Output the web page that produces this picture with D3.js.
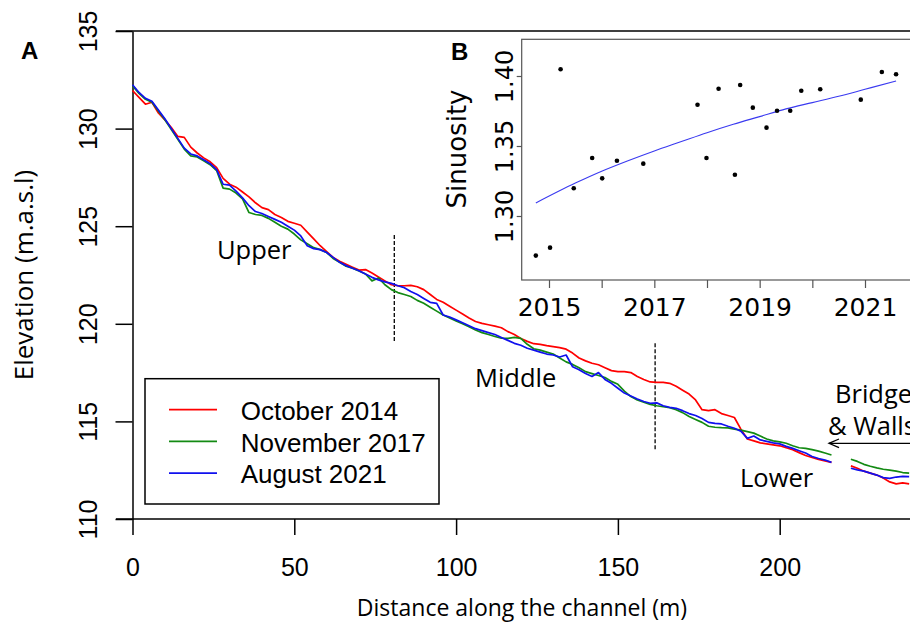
<!DOCTYPE html>
<html>
<head>
<meta charset="utf-8">
<script src="https://cdn.jsdelivr.net/npm/d3@7"></script>
<style>
  body { margin: 0; background: #fff; }
  svg { display: block; }
</style>
</head>
<body>
<svg id="chart" width="910" height="623"></svg>
<script>
// distance along the channel (m)
const distance = [0,2,4,6,8,10,12,14,16,18,20,22,24,26,28,30,32,34,36,38,40,42,44,46,48,50,
  52,54,56,58,60,62,64,66,68,70,72,74,76,78,80,82,84,86,88,90,92,94,96,98,100,
  102,104,106,108,110,112,114,116,118,120,122,124,126,128,130,132,134,136,138,140,
  142,144,146,148,150,152,154,156,158,160,162,164,166,168,170,172,174,176,178,180,
  182,184,186,188,190,192,194,196,198,200,202,204,206,208,210,212,214,216,218,220,
  222,224,226,228,230,232,234,236,238,240];

// elevation profiles (m.a.s.l), null = gap at the bridge
const oct2014 = [131.95,131.6,131.25,131.35,130.8,130.45,130.05,129.6,129.55,129.05,128.75,128.5,128.3,128.0,127.45,127.15,127.0,126.75,126.5,126.2,125.95,
  125.85,125.6,125.45,125.25,125.15,125.05,124.7,124.35,124.0,123.7,123.4,123.2,123.05,122.9,122.75,122.78,122.6,122.4,122.2,122.0,
  121.95,121.95,121.97,121.9,121.75,121.5,121.25,121.1,120.9,120.7,120.5,120.3,120.12,120.02,119.95,119.88,119.8,119.6,119.45,119.25,
  119.1,118.98,118.95,118.88,118.83,118.78,118.7,118.5,118.25,118.1,117.98,117.9,117.75,117.6,117.55,117.55,117.5,117.3,117.15,117.02,
  117.0,117.0,116.95,116.8,116.6,116.4,116.1,115.6,115.55,115.6,115.4,115.3,115.2,114.6,114.1,114.0,113.9,113.85,113.8,113.75,
  113.65,113.55,113.4,113.25,113.15,113.05,112.98,112.9,null,null,112.72,112.6,112.45,112.35,112.25,112.1,111.9,111.8,111.85,111.8];

const nov2017 = [132.2,131.8,131.5,131.35,130.9,130.45,129.95,129.45,128.95,128.6,128.55,128.35,128.15,127.85,126.95,126.9,126.7,126.4,125.7,125.6,125.55,
  125.4,125.2,125.0,124.85,124.6,124.3,124.1,123.9,123.8,123.65,123.35,123.15,122.95,122.85,122.7,122.55,122.2,122.35,122.0,121.75,
  121.6,121.5,121.4,121.2,121.05,120.85,120.65,120.45,120.3,120.15,120.0,119.85,119.68,119.55,119.45,119.35,119.26,119.25,119.3,119.25,
  118.95,118.72,118.65,118.55,118.45,118.25,118.05,117.92,117.75,117.55,117.45,117.35,117.25,117.05,116.9,116.55,116.27,116.1,115.98,115.87,
  115.8,115.75,115.7,115.6,115.45,115.25,115.1,114.95,114.75,114.7,114.68,114.67,114.6,114.55,114.48,114.4,114.25,114.1,114.0,113.95,
  113.88,113.75,113.65,113.62,113.55,113.48,113.38,113.28,null,null,113.06,112.95,112.8,112.7,112.62,112.55,112.5,112.45,112.38,112.35];

const aug2021 = [132.25,131.85,131.55,131.4,130.95,130.5,130.0,129.5,129.0,128.7,128.6,128.4,128.2,127.9,127.15,127.1,126.8,126.45,126.05,125.75,125.65,
  125.5,125.35,125.2,125.0,124.8,124.5,124.0,123.85,123.8,123.65,123.4,123.15,122.98,122.85,122.72,122.55,122.38,122.25,122.15,122.07,
  121.95,121.85,121.65,121.5,121.3,121.1,121.05,120.45,120.35,120.2,120.05,119.9,119.75,119.65,119.55,119.45,119.3,119.15,119.0,118.9,
  118.75,118.65,118.55,118.45,118.4,118.3,118.4,117.8,117.65,117.45,117.3,117.5,117.15,116.95,116.7,116.45,116.3,116.15,116.02,115.93,
  115.95,115.8,115.72,115.67,115.55,115.4,115.3,115.15,114.95,114.9,114.87,114.75,114.65,114.5,114.13,114.25,114.05,113.98,113.9,113.85,
  113.72,113.62,113.5,113.38,113.2,113.1,113.02,112.9,null,null,112.6,112.52,112.45,112.35,112.25,112.12,112.08,112.15,112.18,112.17];

const seriesNames = ["October 2014", "November 2017", "August 2021"];
const seriesColors = ["#ff0000", "#138a13", "#1010ee"];
const xTicks = [0, 50, 100, 150, 200];
const yTicks = [110, 115, 120, 125, 130, 135];
const reachBreaks = [80.9, 161.5];

// inset B: sinuosity per survey date
const surveyYear = [2014.75,2015.02,2015.22,2015.47,2015.82,2016.01,2016.29,2016.79,2017.82,2017.99,2018.22,
  2018.53,2018.63,2018.87,2019.13,2019.33,2019.58,2019.79,2020.15,2020.92,2021.32,2021.59];
const sinuosity = [1.2717,1.2774,1.4048,1.3198,1.3414,1.3269,1.3395,1.3374,1.3795,1.3414,1.3909,
  1.3295,1.3936,1.3774,1.3631,1.3752,1.3752,1.3895,1.3905,1.3831,1.4029,1.4012];
const trendYear = [2014.75,2015.5,2016,2016.5,2017,2017.5,2018,2018.5,2019,2019.5,2020,2020.5,2021,2021.59];
const trendSin = [1.3093,1.3235,1.332,1.3395,1.3465,1.353,1.3595,1.3655,1.371,1.3765,1.381,1.3855,1.3905,1.3964];
const insetXTicks = [2015, 2016, 2017, 2018, 2019, 2020, 2021];
const insetXLabels = [2015, 2017, 2019, 2021];
const insetYTicks = [1.30, 1.35, 1.40];

const svg = d3.select("#chart");
const arial = "'Liberation Sans', Arial, sans-serif";
const open = "'Open Sans', sans-serif";
const dejavu = "'DejaVu Sans', Verdana, sans-serif";

const x = d3.scaleLinear().domain([0, 200]).range([132.5, 779.7]);
const y = d3.scaleLinear().domain([110, 135]).range([519, 31]);

// frame lines (top line and bottom axis run past the right edge)
svg.append("line").attr("x1", 116).attr("x2", 910).attr("y1", y(135)).attr("y2", y(135))
  .attr("stroke", "#000").attr("stroke-width", 1.5);

// y axis
const gy = svg.append("g")
  .attr("transform", "translate(" + x(0) + ",0)")
  .call(d3.axisLeft(y).tickValues(yTicks).tickSize(17).tickSizeOuter(0));
gy.select(".domain").attr("stroke-width", 1.5);
gy.selectAll(".tick line").attr("stroke-width", 1.5);
gy.selectAll(".tick text")
  .attr("x", null).attr("dy", null)
  .attr("transform", "translate(-36,0) rotate(-90)")
  .attr("text-anchor", "middle")
  .style("font-family", arial).style("font-size", "25px").attr("fill", "#000");

// x axis
const gx = svg.append("g")
  .attr("transform", "translate(0," + y(110) + ")")
  .call(d3.axisBottom(x).tickValues(xTicks).tickSize(16).tickSizeOuter(0));
gx.select(".domain").attr("d", "M116,0H910").attr("stroke-width", 1.5);
gx.selectAll(".tick line").attr("stroke-width", 1.5);
gx.selectAll(".tick text")
  .attr("y", 57).attr("dy", null)
  .style("font-family", arial).style("font-size", "25px").attr("fill", "#000");

// axis titles
svg.append("text")
  .attr("transform", "translate(33," + ((y(135) + y(110)) / 2) + ") rotate(-90)")
  .attr("text-anchor", "middle")
  .style("font-family", open).style("font-size", "26px")
  .text("Elevation (m.a.s.l)");
svg.append("text")
  .attr("x", 522).attr("y", 616)
  .attr("text-anchor", "middle")
  .style("font-family", open).style("font-size", "23px")
  .text("Distance along the channel (m)");

svg.append("text").attr("x", 21).attr("y", 59)
  .style("font-family", arial).style("font-size", "24px").style("font-weight", "bold")
  .text("A");

// reach boundaries
reachBreaks.forEach((b, i) => {
  const span = i === 0 ? [124.55, 119.08] : [119.0, 113.55];
  svg.append("line").attr("x1", x(b)).attr("x2", x(b))
    .attr("y1", y(span[0])).attr("y2", y(span[1]))
    .attr("stroke", "#000").attr("stroke-width", 1.3).attr("stroke-dasharray", "4,2");
});

// profiles
const line = d3.line()
  .defined(d => d[1] !== null)
  .x(d => x(d[0]))
  .y(d => y(d[1]));
[oct2014, nov2017, aug2021].forEach((s, i) => {
  svg.append("path")
    .datum(distance.map((d, j) => [d, s[j]]))
    .attr("fill", "none")
    .attr("stroke", seriesColors[i])
    .attr("stroke-width", 1.7)
    .attr("stroke-linejoin", "round")
    .attr("d", line);
});

// reach labels
const labels = [["Upper", 217, 258.7], ["Middle", 475, 387.3], ["Lower", 740, 487.3],
  ["Bridge", 835, 403.3], ["& Walls", 828, 435]];
labels.forEach(l => {
  svg.append("text").attr("x", l[1]).attr("y", l[2])
    .style("font-family", open).style("font-size", "25.5px")
    .text(l[0]);
});
svg.append("line").attr("x1", 829).attr("x2", 910).attr("y1", 443.3).attr("y2", 443.3)
  .attr("stroke", "#000").attr("stroke-width", 1.3);
svg.append("path").attr("d", "M839,439L829,443.3L839,447.6")
  .attr("fill", "none").attr("stroke", "#000").attr("stroke-width", 1.3);

// legend
const legend = svg.append("g");
legend.append("rect").attr("x", 145).attr("y", 378.7).attr("width", 294).attr("height", 125.3)
  .attr("fill", "#fff").attr("stroke", "#000").attr("stroke-width", 1.5);
seriesNames.forEach((name, i) => {
  const ly = 409.7 + i * 31.7;
  legend.append("line").attr("x1", 169).attr("x2", 217).attr("y1", ly).attr("y2", ly)
    .attr("stroke", seriesColors[i]).attr("stroke-width", 1.7);
  legend.append("text").attr("x", 240.7).attr("y", ly + 10.3)
    .style("font-family", arial).style("font-size", "26px")
    .text(name);
});

// inset B
const xi = d3.scaleLinear().domain([2015, 2021]).range([549, 865]);
const yi = d3.scaleLinear().domain([1.30, 1.40]).range([216, 76]);
const boxTop = 39.3, boxBottom = 280, boxLeft = 521.7;

svg.append("rect").attr("x", boxLeft).attr("y", boxTop).attr("width", 420).attr("height", boxBottom - boxTop)
  .attr("fill", "#fff").attr("stroke", "#555").attr("stroke-width", 1.2);

const gxi = svg.append("g")
  .attr("transform", "translate(0," + boxBottom + ")")
  .call(d3.axisBottom(xi).tickValues(insetXTicks).tickSize(8).tickSizeOuter(0)
    .tickFormat(d => insetXLabels.includes(d) ? d : ""));
gxi.select(".domain").remove();
gxi.selectAll(".tick line").attr("stroke", "#555").attr("stroke-width", 1.2);
gxi.selectAll(".tick text")
  .attr("y", 36).attr("dy", null)
  .style("font-family", dejavu).style("font-size", "25px").attr("fill", "#000");

const gyi = svg.append("g")
  .attr("transform", "translate(" + boxLeft + ",0)")
  .call(d3.axisLeft(yi).tickValues(insetYTicks).tickSize(5).tickSizeOuter(0).tickFormat(d3.format(".2f")));
gyi.select(".domain").remove();
gyi.selectAll(".tick line").attr("stroke", "#555").attr("stroke-width", 1.2);
gyi.selectAll(".tick text")
  .attr("x", null).attr("dy", null)
  .attr("transform", "translate(-9,0) rotate(-90)")
  .attr("text-anchor", "middle")
  .style("font-family", dejavu).style("font-size", "24px").attr("fill", "#000");

svg.append("text")
  .attr("transform", "translate(466,149) rotate(-90)")
  .attr("text-anchor", "middle")
  .style("font-family", dejavu).style("font-size", "26px")
  .text("Sinuosity");

svg.append("text").attr("x", 451).attr("y", 60)
  .style("font-family", arial).style("font-size", "24px").style("font-weight", "bold")
  .text("B");

svg.append("path")
  .datum(trendYear.map((d, i) => [d, trendSin[i]]))
  .attr("fill", "none").attr("stroke", "#3a3af0").attr("stroke-width", 1.1)
  .attr("d", d3.line().curve(d3.curveMonotoneX).x(d => xi(d[0])).y(d => yi(d[1])));

svg.selectAll("circle.pt")
  .data(surveyYear.map((d, i) => [d, sinuosity[i]]))
  .enter().append("circle")
  .attr("class", "pt")
  .attr("cx", d => xi(d[0]))
  .attr("cy", d => yi(d[1]))
  .attr("r", 2.3)
  .attr("fill", "#000");
</script>
</body>
</html>
